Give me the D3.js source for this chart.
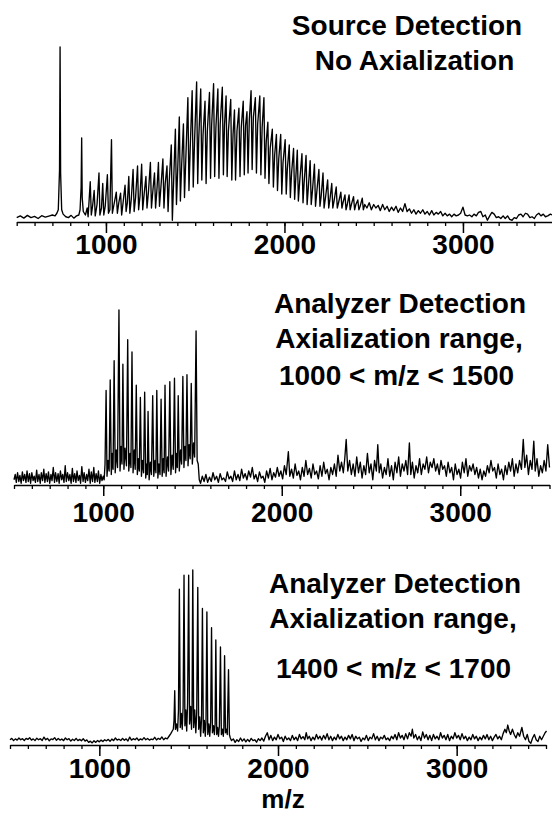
<!DOCTYPE html>
<html>
<head>
<meta charset="utf-8">
<script src="https://cdn.jsdelivr.net/npm/d3@7"></script>
<style>
  html, body { margin: 0; padding: 0; background: #fff; }
  svg text { font-family: "Liberation Sans", Arial, Helvetica, sans-serif; font-weight: bold; fill: #000; }
</style>
</head>
<body>
<svg id="chart" width="552" height="814"></svg>
<script>
/* Three mass spectra (source vs analyzer detection), drawn with D3 */

// x axis ticks (m/z)
const majorTicks = [1000, 2000, 3000];
const minorTicks = [500, 600, 700, 800, 900, 1000, 1100, 1200, 1300, 1400, 1500, 1600, 1700, 1800, 1900, 2000,
  2100, 2200, 2300, 2400, 2500, 2600, 2700, 2800, 2900, 3000, 3100, 3200, 3300, 3400, 3500];

// panel captions
const sourceTitles = ['Source Detection', 'No Axialization'];
const analyzer1Titles = ['Analyzer Detection', 'Axialization range,', '1000 < m/z < 1500'];
const analyzer2Titles = ['Analyzer Detection', 'Axialization range,', '1400 < m/z < 1700'];
const xTitle = 'm/z';

// spectra: [m/z, relative intensity]
const sourceSpectrum = [
  [500,2.5],[520,3.5],[540,2.2],[560,3.8],[580,2.5],[600,3.2],[620,2.0],[640,3.6],[660,2.8],[680,3.4],[700,4],[715,3.5],
  [725,5],[733,7],[740,30],[743,100],[746,28],[752,7],[760,4.5],[775,3],[790,2.5],[805,3.8],[820,2.2],[835,3.5],[848,4],
  [855,7],[861,20],[864,48],[867,14],[873,6],[885,4],[895,8],[900,3],[912,23],[918,4],[925,9],[934,18],[940,3.5],
  [950,10],[961,28],[966,4],[975,8],[982,22],[988,4],[996,9],[1008,27],[1014,5],[1022,7],[1031,47],[1036,5],[1045,10],
  [1058,17],[1064,5],[1072,11],[1082,16.5],[1088,4],[1097,12],[1107,21],[1113,6],[1120,11],[1128,26],[1134,5],[1142,13],
  [1152,30],[1158,6],[1166,14],[1177,32],[1183,7],[1191,15],[1200,33],[1206,7],[1214,16],[1224,26],[1230,8],[1238,17],
  [1249,34],[1255,8],[1263,18],[1272,28],[1278,8],[1286,19],[1294,34],[1300,9],[1308,20],[1319,36],[1325,8],[1332,22],
  [1342,32],[1348,6],[1355,24],[1366,44],[1372,1],[1380,26],[1389,53],[1395,10],[1402,30],[1411,60],[1417,12],[1424,32],
  [1434,56],[1440,14],[1448,38],[1459,71],[1465,18],[1472,42],[1483,75],[1489,20],[1496,45],[1508,80],[1514,22],[1520,48],
  [1531,76],[1537,24],[1544,50],[1555,69],[1561,22],[1568,52],[1580,74],[1586,25],[1592,55],[1603,79],[1609,26],[1616,54],
  [1627,76],[1633,25],[1640,56],[1652,77],[1658,27],[1664,55],[1673,72],[1679,26],[1686,52],[1699,70],[1705,24],[1712,50],
  [1720,64],[1726,24],[1734,52],[1745,65],[1751,26],[1758,54],[1769,69],[1775,27],[1782,55],[1790,63],[1796,28],[1803,58],
  [1813,75],[1819,30],[1826,60],[1837,71],[1843,28],[1850,56],[1862,72],[1868,27],[1875,54],[1885,71],[1891,25],[1898,46],
  [1907,57],[1913,22],[1920,42],[1932,53],[1938,20],[1945,38],[1955,50],[1961,18],[1968,36],[1979,50],[1985,16],[1992,34],
  [2004,47],[2010,16],[2016,30],[2027,44],[2033,14],[2040,28],[2051,42],[2057,13],[2064,26],[2072,41],[2078,12],[2086,24],
  [2098,39],[2104,11],[2110,22],[2121,38],[2127,10],[2134,20],[2144,35],[2150,10],[2157,18],[2168,33],[2174,9],[2181,17],
  [2193,30],[2199,9],[2206,15],[2216,28],[2222,8],[2230,14],[2242,24],[2248,8],[2255,13],[2265,22],[2271,8],[2278,12],
  [2290,20],[2296,8],[2303,11],[2316,17],[2322,8],[2328,11],[2339,15.5],[2345,7],[2352,10],[2362,15.5],[2368,7],[2375,10],
  [2387,14.5],[2393,7],[2400,10],[2411,12.6],[2417,7],[2424,9],[2436,13.6],[2442,7],
  [2450,10],[2462,8],[2475,11],[2487,7],[2500,10],[2512,8],[2525,9.5],[2537,6.5],[2550,10],[2562,7],[2575,9],[2587,6],
  [2600,8.5],[2612,6.5],[2625,9],[2637,5.5],[2650,8],[2662,6],[2675,10.5],[2687,6],[2700,7.5],[2712,5],[2725,7],[2737,4.5],
  [2750,6.5],[2762,5],[2775,7],[2787,4.5],[2800,6],[2812,4],[2825,6.5],[2837,4],[2850,5.5],[2862,4.5],[2875,6],[2887,3.5],
  [2900,5],[2912,3.5],[2925,4.5],[2937,3],[2950,4.5],[2962,3.5],[2975,4],[2987,5],[3000,8.5],[3012,4],[3025,3.5],[3037,4],
  [3050,3],[3062,4.5],[3075,3.5],[3087,5.5],[3100,6],[3112,3],[3125,4],[3137,1],[3150,3.5],[3162,5.5],[3175,4.5],[3187,2.5],
  [3200,3],[3212,2],[3225,3.5],[3237,2],[3250,3.5],[3262,1.5],[3275,1],[3287,2.5],[3300,2],[3312,4],[3325,4.5],[3337,3],
  [3350,5],[3362,4.5],[3375,2.5],[3387,3],[3400,2],[3412,4],[3425,5],[3437,3.5],[3450,4.5],[3462,3],[3475,3.5],[3490,4.5],[3500,4]
];

const analyzer1Spectrum = [
  [500,3],[507,6],[513,1.5],[520,7],[527,2],[533,5.5],[540,1],[547,7.5],[553,2.5],[560,6],[567,1.5],[573,8],[580,2],
  [587,6.5],[593,1],[600,7],[607,2.5],[613,5],[620,1.5],[627,8.5],[633,2],[640,6],[647,1],[653,7],[660,2.5],[667,9],
  [673,1.5],[680,6.5],[687,2],[693,7.5],[700,1],[707,6],[713,2.5],[720,10],[727,1.5],[733,7],[740,2],[747,6.5],[753,1],
  [760,8],[767,3],[773,6],[780,1.5],[787,11],[793,2],[800,7],[807,2.5],[813,6],[820,1],[827,9.5],[833,2],[840,6.5],
  [847,1.5],[853,8],[860,2.5],[867,5.5],[873,1],[880,10.5],[887,2],[893,7],[900,1.5],[907,6],[913,2.5],[920,9],[927,1],
  [933,7.5],[940,2],[947,10],[953,1.5],[960,6.5],[967,2],[973,8],[980,1],[987,6],[993,2.5],[1000,5],
  [1005,3],[1010,12],[1016,54],[1021,5],[1027,14],[1033,8],[1039,60],[1045,6],[1050,18],[1055,9],[1061,71],[1067,7],
  [1073,20],[1080,10],[1088,100],[1094,8],[1100,22],[1105,12],[1110,69],[1116,9],[1122,21],[1130,11],[1137,83],[1143,8],
  [1150,18],[1155,10],[1161,76],[1167,7],[1174,20],[1179,9],[1185,57],[1191,6],[1197,15],[1202,8],[1208,50],[1214,5],
  [1220,14],[1226,7],[1232,53],[1238,4],[1244,12],[1247,6],[1251,42],[1257,3],[1264,13],[1270,6],[1277,51],[1283,5],
  [1290,14],[1295,7],[1300,54],[1306,4],[1312,12],[1318,6],[1324,49],[1330,5],[1336,15],[1341,7],[1346,57],[1352,5],
  [1360,16],[1366,8],[1373,59],[1379,6],[1386,17],[1392,9],[1399,61],[1405,7],[1411,18],[1415,10],[1420,51],[1426,8],
  [1433,20],[1439,12],[1446,62],[1452,10],[1458,22],[1463,14],[1469,63],[1475,11],[1481,23],[1487,15],[1493,58],[1499,12],
  [1506,24],[1512,16],[1520,88],[1526,14],[1532,12],[1538,3],[1545,1],
  [1555,5],[1565,2],[1575,6],[1585,1.5],[1595,4.5],[1605,2],[1615,7],[1625,3],[1635,5],[1645,1.5],[1655,6.5],[1665,3],
  [1675,4],[1685,2],[1695,7.5],[1705,3.5],[1715,5],[1725,2],[1735,8],[1745,3],[1755,6],[1765,2.5],[1775,9],[1785,4],
  [1795,6.5],[1805,3],[1815,8],[1825,4.5],[1835,10],[1845,3.5],[1855,6],[1865,2],[1875,7.5],[1885,4],[1895,5],[1905,1.5],
  [1915,8],[1925,4],[1935,9.5],[1945,3],[1955,7],[1965,4.5],[1975,10],[1985,5],[1995,8],[2005,3.5],[2015,11],[2025,6],
  [2037,19],[2045,5],[2055,9],[2065,4],[2075,12],[2085,5.5],[2095,8],[2105,3],[2115,10],[2125,5],[2135,14],[2145,6],
  [2155,9.5],[2165,4],[2175,12],[2185,6],[2195,8],[2205,3.5],[2215,11],[2225,5],[2235,13],[2245,6.5],[2255,9],[2265,3],
  [2275,10],[2285,6],[2295,12],[2305,5],[2315,17],[2325,8],[2335,13],[2345,7],[2353,15],[2361,26],[2370,8],[2380,14],
  [2390,6],[2400,12],[2410,5],[2420,16],[2430,7],[2440,13],[2450,4],[2460,11],[2470,6],[2480,18],[2490,7],[2500,12],
  [2510,3],[2520,14],[2530,8],[2538,23],[2546,7],[2555,12],[2565,4],[2575,10],[2585,6],[2595,15],[2605,5],[2615,11],
  [2625,3],[2635,13],[2645,7],[2655,16],[2665,5],[2675,12],[2685,8],[2695,14],[2705,6],[2715,24],[2723,6],[2732,13],
  [2742,4],[2752,11],[2762,7],[2772,15],[2782,6],[2792,12],[2802,9],[2812,16],[2822,7],[2832,13],[2842,10],[2852,15],
  [2862,8],[2872,12],[2882,6],[2892,14],[2902,9],[2912,11],[2922,5],[2932,13],[2942,7],[2952,10],[2962,3],[2972,12],
  [2982,6],[2992,9],[3002,4],[3012,13],[3022,7],[3032,15],[3042,5],[3052,11],[3062,8],[3072,12],[3082,6],[3092,10],
  [3102,4],[3112,9],[3122,3],[3132,8],[3142,5],[3152,11],[3162,7],[3172,14],[3182,8],[3192,10],[3202,4],[3212,12],
  [3222,6],[3232,9],[3242,3],[3252,11],[3262,6],[3272,13],[3282,8],[3292,15],[3302,5],[3312,12],[3322,7],[3332,14],
  [3343,9],[3353,26],[3362,10],[3372,17],[3382,6],[3392,14],[3402,9],[3412,25],[3420,8],[3430,15],[3440,5],[3450,11],
  [3460,7],[3470,14],[3480,8],[3490,23],[3500,10]
];

const analyzer2Spectrum = [
  [500,3],[510,3.8],[520,2.5],[530,3.5],[540,2.8],[550,4],[560,3],[570,3.6],[580,2.6],[590,3.8],[600,3.2],[610,4.2],
  [620,2.8],[630,3.5],[640,2.5],[650,3.9],[660,3],[670,3.6],[680,2.6],[690,4.5],[700,3],[710,3.8],[720,2.4],[730,3.5],
  [740,3.1],[750,4.2],[760,2.7],[770,3.7],[780,2.8],[790,3.4],[800,2.5],[810,4],[820,3],[830,3.6],[840,2.2],[850,3.3],
  [860,2.6],[870,3.8],[880,2.5],[890,3.2],[900,2.4],[910,3.6],[920,2.2],[930,2.9],[940,1.5],[950,2.2],[960,1.2],[970,2.4],
  [980,1.5],[990,2.6],[1000,1.8],[1010,2.8],[1020,2],[1030,3],[1040,2.4],[1050,3.2],[1060,2.1],[1070,3.4],[1080,2.5],
  [1090,4],[1100,2.8],[1110,3.3],[1120,2.6],[1130,3.8],[1140,2.7],[1150,3.5],[1160,2.3],[1170,4.5],[1180,2.8],[1190,3.6],
  [1200,3],[1210,4],[1220,2.6],[1230,3.5],[1240,2.9],[1250,4.2],[1260,3],[1270,3.7],[1280,2.8],[1290,3.4],[1300,3.1],
  [1310,4.4],[1320,2.9],[1330,3.8],[1340,3.2],[1350,4.6],[1360,3],[1370,4],[1380,3.5],[1390,5],[1400,6.5],[1408,8],[1414,9],
  [1418,14],[1422,31],[1426,9],[1432,12],[1438,8],[1443,20],[1448,89],[1453,10],[1459,18],[1464,9],[1469,22],[1474,97],
  [1479,11],[1484,20],[1489,8],[1494,24],[1500,97],[1505,12],[1511,22],[1516,9],[1519,21],[1523,100],[1528,10],[1534,20],
  [1540,7],[1545,18],[1551,90],[1556,9],[1562,16],[1567,5],[1572,15],[1577,78],[1582,7],[1588,14],[1593,5],[1597,13],
  [1602,76],[1607,6],[1613,12],[1618,5],[1623,13],[1628,67],[1633,7],[1639,11],[1644,6],[1648,12],[1652,60],[1657,6],
  [1662,10],[1667,5],[1672,11],[1678,56],[1683,6],[1689,9],[1694,5],[1697,10],[1701,51],[1706,7],[1712,9],[1716,6],
  [1723,43],[1728,6],[1733,4],[1740,2.5],
  [1750,3.5],[1760,1.5],[1770,3],[1780,2],[1790,4],[1800,2.2],[1810,3.5],[1820,1.8],[1830,3.2],[1840,2],[1850,3.8],
  [1860,2.5],[1870,3],[1880,1.6],[1890,3.6],[1900,2.5],[1910,4],[1920,2.2],[1930,5],[1940,7],[1950,3],[1960,5.5],
  [1970,2.5],[1980,4.5],[1990,3],[2000,6],[2010,3.5],[2020,4.5],[2030,2],[2040,5],[2050,3],[2060,4],[2070,2.5],[2080,5.5],
  [2090,3],[2100,4.5],[2110,2.5],[2120,6],[2130,3.5],[2140,4.8],[2150,3],[2158,7],[2166,3.5],[2175,5],[2185,2.5],[2195,4.5],
  [2205,3],[2215,6],[2225,3.5],[2235,5],[2245,2.8],[2255,5.5],[2265,3.4],[2275,6.5],[2285,3],[2295,5],[2305,2.5],[2315,4.5],
  [2325,3],[2335,6],[2345,3.5],[2355,5],[2365,2.5],[2375,4.5],[2385,3],[2395,5.5],[2405,3.5],[2415,6],[2425,2.5],[2435,5],
  [2445,3.5],[2455,4.5],[2465,2],[2475,4],[2485,3],[2495,5.5],[2505,2.5],[2515,4.5],[2525,3.5],[2535,6.5],[2545,3],[2555,5],
  [2565,2.5],[2575,4.5],[2585,3.5],[2595,5.5],[2605,3],[2615,4],[2625,2.5],[2635,5],[2645,3.5],[2655,6],[2665,3],[2675,7],
  [2685,4],[2695,5.5],[2705,3],[2715,6.5],[2725,3.5],[2735,7],[2745,5],[2752,9],[2760,4],[2770,6],[2780,3],[2790,5],
  [2800,2.5],[2810,7.5],[2820,4],[2830,6],[2840,3],[2850,5.5],[2860,2.5],[2870,6],[2880,3.5],[2890,5],[2900,3],[2910,7],
  [2920,4],[2930,5.5],[2940,3],[2950,6],[2960,2.5],[2970,5],[2980,3.5],[2990,7],[3000,4],[3010,5.5],[3020,3],[3030,6.5],
  [3040,3.5],[3050,5],[3060,2.5],[3070,4.5],[3080,3],[3090,6],[3100,3.5],[3110,5],[3120,2.5],[3130,4.5],[3140,3],[3150,5.5],
  [3160,3.5],[3170,6],[3180,3],[3190,5],[3200,2.5],[3210,4.5],[3220,6],[3230,3.5],[3240,5],[3250,3],[3260,6.5],[3270,9],
  [3278,7],[3286,11.4],[3294,8],[3302,6],[3312,9],[3322,6],[3332,4],[3342,7],[3352,5],[3365,10],[3375,5],[3385,3],
  [3395,6],[3405,2],[3415,1],[3425,4],[3435,6],[3445,3],[3455,2],[3465,5],[3475,3],[3485,5],[3495,7],[3503,8]
];

// layout of the three stacked panels
const panels = [
  { data: sourceSpectrum, titles: sourceTitles, axisY: 222, x0: 16.7, x1: 552.2, labelPad: 1,
    titleX: [407, 414.5], titleY: [35, 70] },
  { data: analyzer1Spectrum, titles: analyzer1Titles, axisY: 485, x0: 14, x1: 549.5, labelPad: 6,
    titleX: [400, 399, 396.5], titleY: [313, 348, 385] },
  { data: analyzer2Spectrum, titles: analyzer2Titles, axisY: 745, x0: 10, x1: 546, labelPad: 2,
    titleX: [395, 393, 393.5], titleY: [593, 628, 678] }
];

const svg = d3.select('#chart');

panels.forEach(p => {
  const x = d3.scaleLinear().domain([500, 3500]).range([p.x0, p.x1]);
  const y = d3.scaleLinear().domain([0, 100]).range([p.axisY, p.axisY - 175]);

  const g = svg.append('g');

  // minor ticks
  g.append('g')
    .attr('transform', `translate(0,${p.axisY})`)
    .call(d3.axisBottom(x).tickValues(minorTicks).tickSize(4).tickSizeOuter(0).tickFormat(''))
    .call(a => a.select('.domain').attr('stroke-width', 1.6))
    .call(a => a.selectAll('.tick line').attr('stroke-width', 1.3));

  // major ticks with labels
  g.append('g')
    .attr('transform', `translate(0,${p.axisY})`)
    .call(d3.axisBottom(x).tickValues(majorTicks).tickSize(11).tickPadding(p.labelPad)
      .tickSizeOuter(0).tickFormat(d3.format('d')))
    .call(a => a.select('.domain').remove())
    .call(a => a.selectAll('.tick line').attr('stroke-width', 1.5))
    .call(a => a.selectAll('.tick text')
      .attr('font-size', 28)
      .attr('font-family', '"Liberation Sans", Arial, sans-serif')
      .attr('font-weight', 'bold')
      .attr('fill', '#000'));

  // spectrum trace
  const line = d3.line()
    .x(d => x(d[0]))
    .y(d => y(d[1]));

  g.append('path')
    .datum(p.data)
    .attr('fill', 'none')
    .attr('stroke', '#000')
    .attr('stroke-width', 1.35)
    .attr('stroke-linejoin', 'round')
    .attr('d', line);

  // caption
  g.selectAll('text.title')
    .data(p.titles)
    .join('text')
    .attr('class', 'title')
    .attr('x', (d, i) => p.titleX[i])
    .attr('y', (d, i) => p.titleY[i])
    .attr('text-anchor', 'middle')
    .attr('font-size', 28)
    .text(d => d);
});

svg.append('text')
  .attr('x', 283)
  .attr('y', 808)
  .attr('text-anchor', 'middle')
  .attr('font-size', 26)
  .text(xTitle);
</script>
</body>
</html>
